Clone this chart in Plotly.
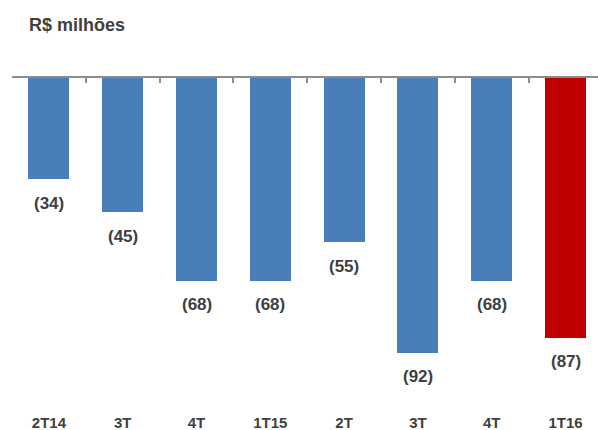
import plotly.graph_objects as go

# Quarterly results, R$ millions
quarters = ["2T14", "3T", "4T", "1T15", "2T", "3T ", "4T ", "1T16"]
tick_text = ["2T14", "3T", "4T", "1T15", "2T", "3T", "4T", "1T16"]
values = [-34, -45, -68, -68, -55, -92, -68, -87]

BLUE = "#4a7ebb"
RED = "#c00000"
TEXT = "#404040"
FONT = "Arial, Liberation Sans, sans-serif"

colors = [BLUE] * (len(values) - 1) + [RED]

W, H = 598, 430
ML, MR, MT, MB = 12, 0, 78, 18
pw, ph = W - ML - MR, H - MT - MB

fig = go.Figure()
fig.add_trace(go.Bar(
    x=quarters, y=values, marker=dict(color=colors, line=dict(width=0)),
    width=0.556, hoverinfo="skip", xaxis="x", yaxis="y",
))
# helper trace so the top (zero) axis with boundary ticks is drawn
fig.add_trace(go.Scatter(
    x=quarters, y=[0] * len(quarters), mode="markers",
    marker=dict(opacity=0), hoverinfo="skip", xaxis="x2", yaxis="y",
))

# value labels under each bar
for q, v in zip(quarters, values):
    fig.add_annotation(
        x=q, y=v, xref="x", yref="y", text=f"<b>({abs(v)})</b>",
        showarrow=False, yshift=-24, yanchor="middle",
        font=dict(family=FONT, size=17, color=TEXT),
    )

# unit title
fig.add_annotation(
    x=(27 - ML) / pw, y=(H - MB - 25) / ph, xref="paper", yref="paper",
    text="<b>R$ milhões</b>", showarrow=False,
    xanchor="left", yanchor="middle",
    font=dict(family=FONT, size=18, color=TEXT),
)

cat_w = 73.8
xr = [-0.5, -0.5 + pw / cat_w]
px_per_unit = 2.985
yr = [-ph / px_per_unit, 0]

fig.update_layout(
    width=W, height=H, margin=dict(l=ML, r=MR, t=MT, b=MB),
    paper_bgcolor="white", plot_bgcolor="white", showlegend=False,
    bargap=0,
    xaxis=dict(
        type="category", categoryarray=quarters, range=xr,
        tickvals=quarters, ticktext=[f"<b>{t}</b>" for t in tick_text],
        showline=False, showgrid=False, zeroline=False, ticks="",
        tickfont=dict(family=FONT, size=15, color=TEXT),
    ),
    xaxis2=dict(
        type="category", categoryarray=quarters, range=xr,
        overlaying="x", side="top", anchor="y",
        showline=True, linecolor="#8c8c8c", linewidth=1.5,
        ticks="inside", tickson="boundaries", ticklen=5,
        tickcolor="#8c8c8c", tickwidth=1.5,
        showticklabels=False, showgrid=False, zeroline=False,
    ),
    yaxis=dict(
        range=yr, visible=False, showgrid=False, zeroline=False,
    ),
)

fig.write_html("out.html")
